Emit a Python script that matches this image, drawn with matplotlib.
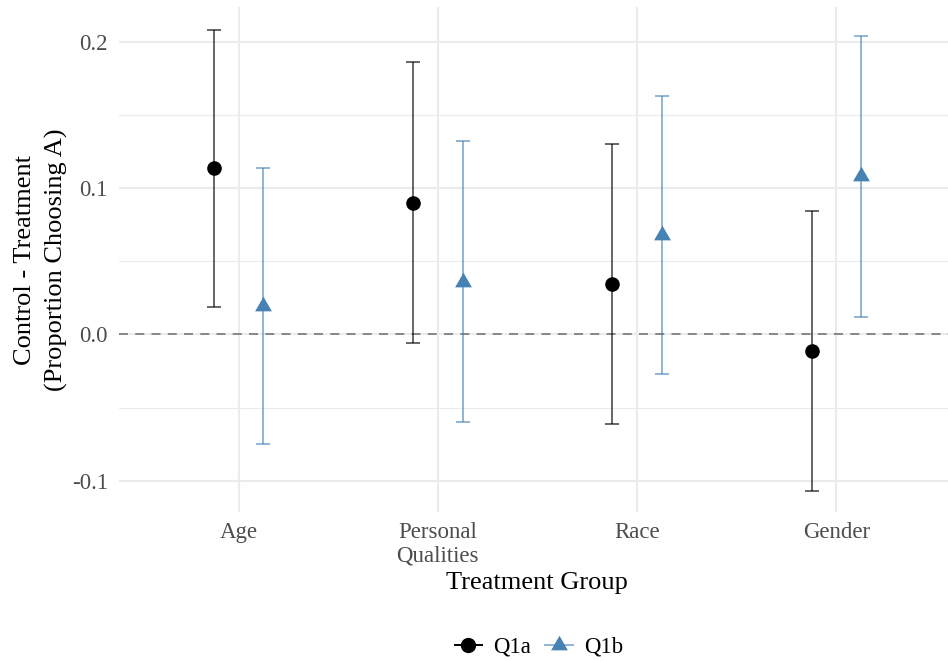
"""
Control minus treatment difference (proportion choosing A) by treatment group,
for questions Q1a and Q1b, with 95% intervals.
"""

import numpy as np
import matplotlib
matplotlib.use("Agg")
import matplotlib.pyplot as plt
from matplotlib.lines import Line2D
from matplotlib.path import Path

# ── data ─────────────────────────────────────────────────────────────────────
categories = ["Age", "Personal\nQualities", "Race", "Gender"]

q1a_est = [0.1135, 0.090, 0.0345, -0.0115]
q1a_lo = [0.019, -0.006, -0.061, -0.107]
q1a_hi = [0.208, 0.186, 0.130, 0.084]

q1b_est = [0.0195, 0.036, 0.068, 0.108]
q1b_lo = [-0.075, -0.060, -0.027, 0.012]
q1b_hi = [0.114, 0.132, 0.163, 0.204]

y_ticks = [-0.1, 0.0, 0.1, 0.2]
y_tick_labels = ["-0.1", "0.0", "0.1", "0.2"]

# ── style ────────────────────────────────────────────────────────────────────
plt.rcParams["font.family"] = ["Liberation Serif", "DejaVu Serif"]
TICK_GREY = "#4d4d4d"
GRID = "#ebebeb"
BLUE = "#4682b4"

# R-style filled triangle (centroid at the data point)
TRI = Path([(0, 1), (0.866, -0.5), (-0.866, -0.5), (0, 1)],
           [Path.MOVETO, Path.LINETO, Path.LINETO, Path.CLOSEPOLY])

W, H = 948, 661
fig = plt.figure(figsize=(W / 100, H / 100), dpi=100)
ax = fig.add_axes([119 / W, 1 - 512 / H, (956 - 119) / W, (512 - 7) / H])

x = np.arange(1, len(categories) + 1)
dodge = 0.125


def draw_series(xpos, est, lo, hi, err_color, err_alpha, marker, ms, mcolor):
    est = np.asarray(est)
    yerr = [est - np.asarray(lo), np.asarray(hi) - est]
    ax.errorbar(xpos, est, yerr=yerr, fmt="none", ecolor=err_color,
                alpha=err_alpha, elinewidth=1.4, capsize=5, capthick=1.4,
                zorder=3)
    ax.plot(xpos, est, linestyle="none", marker=marker, markersize=ms,
            color=mcolor, markeredgewidth=0, zorder=4)


draw_series(x - dodge, q1a_est, q1a_lo, q1a_hi, "#000000", 0.6, "o", 10.5, "black")
draw_series(x + dodge, q1b_est, q1b_lo, q1b_hi, BLUE, 0.6, TRI, 14, BLUE)

ax.axhline(0, color="#7f7f7f", linewidth=1.3, linestyle=(0, (5, 4)), zorder=2)

# ── axes ─────────────────────────────────────────────────────────────────────
ax.set_xlim(0.4, 4.6)
ax.set_ylim(-0.1214, 0.2237)
ax.set_xticks(x)
ax.set_xticklabels(categories, fontsize=16.5, color=TICK_GREY, linespacing=1.15)
ax.set_yticks(y_ticks)
ax.set_yticklabels(y_tick_labels, fontsize=16.5, color=TICK_GREY)
ax.set_yticks([-0.05, 0.05, 0.15], minor=True)
ax.tick_params(axis="both", which="both", length=0)
ax.tick_params(axis="y", pad=8)
ax.tick_params(axis="x", pad=7)

ax.grid(True, which="major", color=GRID, linewidth=1.5, zorder=0)
ax.grid(True, which="minor", axis="y", color=GRID, linewidth=0.8, zorder=0)
ax.set_axisbelow(True)
for s in ax.spines.values():
    s.set_visible(False)

fig.text(41 / W, 1 - 259.5 / H, "Control - Treatment\n(Proportion Choosing A)",
         rotation=90, ha="center", va="center", fontsize=19, linespacing=1.5)
fig.text(537 / W, 1 - 583 / H, "Treatment Group", ha="center", va="center",
         fontsize=19)

handles = [
    Line2D([], [], color="black", marker="o", markersize=10, linewidth=1.4),
    Line2D([], [], color="#90b4d2", marker=TRI, markersize=14, linewidth=1.4,
           markerfacecolor=BLUE, markeredgewidth=0),
]
fig.legend(handles, ["Q1a", "Q1b"], loc="center", ncol=2,
           bbox_to_anchor=(539 / W, 1 - 647 / H), frameon=False, fontsize=16.5,
           handlelength=1.2, handletextpad=0.5, columnspacing=0.6)

fig.savefig("out.png", dpi=100)
